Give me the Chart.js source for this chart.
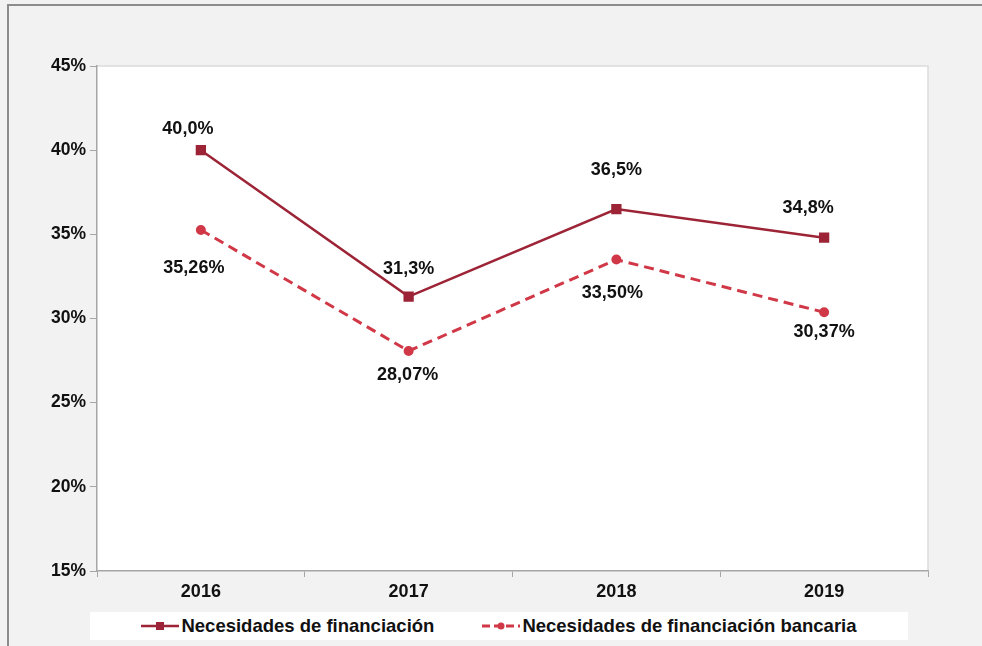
<!DOCTYPE html>
<html>
<head>
<meta charset="utf-8">
<script src="https://cdn.jsdelivr.net/npm/chart.js@4.4.1/dist/chart.umd.min.js"></script>
<style>
  html, body { margin: 0; padding: 0; background: #f2f2f2; }
  #wrap { position: relative; width: 982px; height: 646px; overflow: hidden; }
  #marco { position: absolute; left: 7px; top: 4px; right: -10px; bottom: -10px;
           border-top: 2px solid #8c8c8c; border-left: 2px solid #8c8c8c; pointer-events: none; }
  #leyenda { position: absolute; left: 90px; top: 612px; width: 818px; height: 28px; background: #fff;
             display: flex; justify-content: center; align-items: center; gap: 48px;
             font: bold 18.5px "Liberation Sans", Arial, sans-serif; color: #111; }
  .item { display: flex; align-items: center; gap: 2px; }
</style>
</head>
<body>
<div id="wrap">
  <canvas id="grafico" width="982" height="646"></canvas>
  <div id="marco"></div>
  <div id="leyenda"></div>
</div>
<script>
const anios = ['2016', '2017', '2018', '2019'];
const necesidades = [40.0, 31.3, 36.5, 34.8];
const necesidadesBancaria = [35.26, 28.07, 33.50, 30.37];
const ticksY = [15, 20, 25, 30, 35, 40, 45];

const colorSerie1 = '#9c2436';
const colorSerie2 = '#d13847';

// desplazamiento de las etiquetas respecto al punto (px)
const offsets1 = [[-13, -21], [0, -28], [0, -39], [-16, -30]];
const offsets2 = [[-7, 38], [-1, 24], [-4, 33], [0, 20]];

function fmt(v, dec) {
  return v.toFixed(dec).replace('.', ',') + '%';
}

const fondoArea = {
  id: 'fondoArea',
  beforeDraw(chart) {
    const { ctx, chartArea: a } = chart;
    ctx.save();
    ctx.fillStyle = '#fff';
    ctx.fillRect(a.left, a.top, a.right - a.left, a.bottom - a.top);
    ctx.strokeStyle = '#dcdcdc';
    ctx.lineWidth = 1.5;
    ctx.beginPath();
    ctx.moveTo(a.left, a.top);
    ctx.lineTo(a.right, a.top);
    ctx.lineTo(a.right, a.bottom);
    ctx.stroke();
    ctx.restore();
  }
};

const etiquetas = {
  id: 'etiquetas',
  afterDatasetsDraw(chart) {
    const ctx = chart.ctx;
    ctx.save();
    ctx.font = 'bold 18px "Liberation Sans", Arial, sans-serif';
    ctx.fillStyle = '#111';
    ctx.textAlign = 'center';
    ctx.textBaseline = 'middle';
    chart.data.datasets.forEach((ds, i) => {
      const meta = chart.getDatasetMeta(i);
      const offs = i === 0 ? offsets1 : offsets2;
      const dec = i === 0 ? 1 : 2;
      meta.data.forEach((p, j) => {
        ctx.fillText(fmt(ds.data[j], dec), p.x + offs[j][0], p.y + offs[j][1]);
      });
    });
    ctx.restore();
  }
};

const fuenteX = { family: '"Liberation Sans", Arial, sans-serif', size: 18, weight: 'bold' };
const fuenteY = { family: '"Liberation Sans", Arial, sans-serif', size: 17.5, weight: 'bold' };

new Chart(document.getElementById('grafico'), {
  type: 'line',
  data: {
    labels: anios,
    datasets: [{
      label: 'Necesidades de financiación',
      data: necesidades,
      borderColor: colorSerie1,
      backgroundColor: colorSerie1,
      borderWidth: 2.5,
      pointStyle: 'rect',
      pointRadius: 5.5,
      tension: 0
    }, {
      label: 'Necesidades de financiación bancaria',
      data: necesidadesBancaria,
      borderColor: colorSerie2,
      backgroundColor: colorSerie2,
      borderWidth: 3,
      borderDash: [10, 6],
      pointStyle: 'circle',
      pointRadius: 3.5,
      tension: 0
    }]
  },
  options: {
    responsive: false,
    animation: false,
    layout: { padding: { left: 0, right: 54, top: 66, bottom: 0 } },
    plugins: { legend: { display: false }, tooltip: { enabled: false } },
    scales: {
      y: {
        min: 15, max: 45,
        afterFit(s) { s.width = 97; },
        afterBuildTicks(s) { s.ticks = ticksY.map(v => ({ value: v })); },
        ticks: { callback: v => v + '%', font: fuenteY, color: '#111', padding: 4 },
        grid: { drawOnChartArea: false, drawTicks: true, tickLength: 7, color: '#a6a6a6' },
        border: { color: '#a6a6a6', width: 1.5 }
      },
      x: {
        offset: true,
        afterFit(s) { s.height = 75; },
        ticks: { font: fuenteX, color: '#111', padding: 4 },
        grid: { offset: true, drawOnChartArea: false, drawTicks: true, tickLength: 6, color: '#a6a6a6' },
        border: { color: '#a6a6a6', width: 1.5 }
      }
    }
  },
  plugins: [fondoArea, etiquetas]
});

// leyenda en HTML
const leyenda = document.getElementById('leyenda');
[
  { texto: 'Necesidades de financiación', color: colorSerie1, dash: '', ancho: 2.5, marca: '<rect x="15" y="2" width="8" height="8"/>' },
  { texto: 'Necesidades de financiación bancaria', color: colorSerie2, dash: '8 4', ancho: 3, marca: '<circle cx="19" cy="6" r="3.5"/>' }
].forEach(it => {
  const d = document.createElement('div');
  d.className = 'item';
  d.innerHTML = '<svg width="38" height="12"><line x1="0" y1="6" x2="38" y2="6" stroke="' + it.color +
    '" stroke-width="' + it.ancho + '" stroke-dasharray="' + it.dash + '"/><g fill="' + it.color + '">' + it.marca + '</g></svg>' +
    '<span>' + it.texto + '</span>';
  leyenda.appendChild(d);
});
</script>
</body>
</html>
